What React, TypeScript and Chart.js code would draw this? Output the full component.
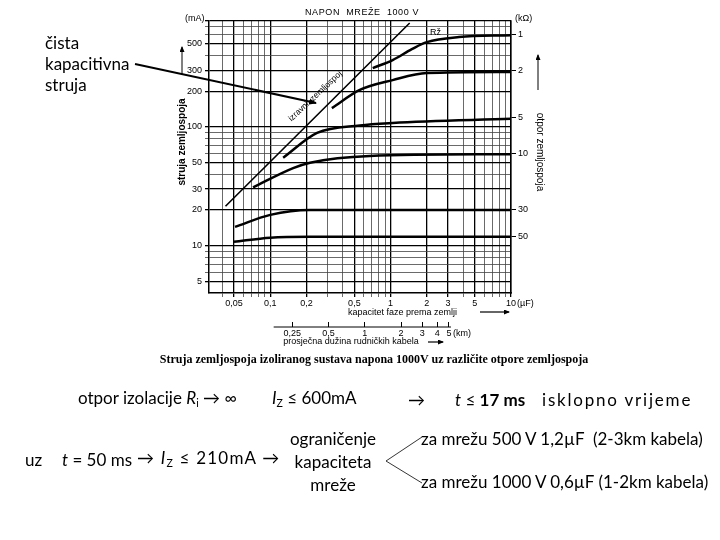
import React, { useEffect, useRef } from "react";
import { Chart, registerables } from "chart.js";
Chart.register(...registerables);

// ---- axes ----
const X_MIN = 0.031;
const X_MAX = 10;
const Y_MIN = 4;
const Y_MAX = 780;
const KM_MIN = 0.0508;
const KM_MAX = 16.4;
const R_MIN = 0.77;
const R_MAX = 150;

const X_GRID = [0.04, 0.05, 0.06, 0.07, 0.08, 0.09, 0.1, 0.2, 0.3, 0.4, 0.5, 0.6, 0.7, 0.8, 0.9, 1, 2, 3, 4, 5, 6, 7, 8, 9, 10];
const X_LABELS = [0.05, 0.1, 0.2, 0.5, 1, 2, 3, 5, 10];
const Y_GRID = [5, 6, 7, 8, 9, 10, 20, 30, 40, 50, 60, 70, 80, 90, 100, 200, 300, 400, 500, 600, 700];
const Y_LABELS = [5, 10, 20, 30, 50, 100, 200, 300, 500];
const R_TICKS = [1, 2, 5, 10, 30, 50];
const KM_TICKS = [0.25, 0.5, 1, 2, 3, 4, 5];
const KM_LINE = [0.175, 5.2];

// ---- series (capacitance µF -> current mA) ----
const DIRECT_C = [0.0425, 1.44];
const DIRECT_I = [21.5, 750];
const R1_C = [0.71, 1.04, 1.5, 2, 3.7, 10];
const R1_I = [313, 366, 452, 518, 571, 593];
const R2_C = [0.325, 0.555, 1.04, 2, 10];
const R2_I = [144, 205, 248, 284, 290];
const R5_C = [0.128, 0.245, 0.555, 1.04, 10];
const R5_I = [55, 89, 103, 108, 117];
const R10_C = [0.072, 0.155, 0.214, 0.67, 10];
const R10_I = [31, 45, 50, 57, 59];
const R30_C = [0.051, 0.1, 0.214, 10];
const R30_I = [14.4, 18.2, 20, 20];
const R50_C = [0.05, 0.1, 0.214, 10];
const R50_I = [10.8, 11.7, 11.9, 11.9];

const has = (list: number[], v: number) => list.some((l) => Math.abs(l - v) < 1e-9);
const fmt = (v: number) => String(v).replace(".", ",");
const pts = (xs: number[], ys: number[]) => xs.map((x, i) => ({ x, y: ys[i] }));

const curve = (label: string, xs: number[], ys: number[], width: number) => ({
  label,
  data: pts(xs, ys),
  borderColor: "#000",
  borderWidth: width,
  pointRadius: 0,
  fill: false,
  cubicInterpolationMode: "monotone" as const,
});

const kmLinePlugin = {
  id: "kmLine",
  afterDraw(chart: any) {
    const s = chart.scales.x2;
    const ctx = chart.ctx;
    const y = s.top + 5;
    ctx.save();
    ctx.strokeStyle = "#000";
    ctx.lineWidth = 1;
    ctx.beginPath();
    ctx.moveTo(s.getPixelForValue(KM_LINE[0]), y);
    ctx.lineTo(s.getPixelForValue(KM_LINE[1]), y);
    ctx.stroke();
    ctx.restore();
  },
};

const gridColor = (labels: number[]) => (ctx: any) =>
  ctx.tick && has(labels, ctx.tick.value) ? "#000" : "#444";
const gridWidth = (labels: number[]) => (ctx: any) =>
  ctx.tick && has(labels, ctx.tick.value) ? 1.3 : 0.8;

const TXT = "#000";
const Txt = ({ x, y, size = 9, center = false, style = {}, children }: any) => (
  <div
    style={{
      position: "absolute",
      left: x,
      top: y,
      transform: center ? "translate(-50%,-50%)" : "translate(0,-50%)",
      fontSize: size,
      lineHeight: 1,
      whiteSpace: "nowrap",
      color: TXT,
      ...style,
    }}
  >
    {children}
  </div>
);

const SLIDE: any = { fontFamily: "Lato, 'Open Sans', sans-serif" };
const PLOT: any = { fontFamily: "'Liberation Sans', Arial, sans-serif" };
const sub: any = { fontSize: "0.62em", verticalAlign: "-0.3em", fontStyle: "normal" };

export default function App() {
  const ref = useRef<HTMLCanvasElement>(null);
  useEffect(() => {
    Chart.defaults.font.family = "'Liberation Sans', Arial, sans-serif";
    const chart = new Chart(ref.current as HTMLCanvasElement, {
      type: "line",
      data: {
        datasets: [
          curve("izravni zemljospoj", DIRECT_C, DIRECT_I, 1.6),
          curve("1 kΩ", R1_C, R1_I, 2.5),
          curve("2 kΩ", R2_C, R2_I, 2.5),
          curve("5 kΩ", R5_C, R5_I, 2.5),
          curve("10 kΩ", R10_C, R10_I, 2.5),
          curve("30 kΩ", R30_C, R30_I, 2.5),
          curve("50 kΩ", R50_C, R50_I, 2.5),
        ],
      },
      options: {
        responsive: false,
        animation: false,
        layout: { padding: { left: 176, right: 174, top: 21, bottom: 2.6 } },
        plugins: {
          legend: { display: false },
          tooltip: { enabled: false },
          title: { display: false },
        },
        scales: {
          x: {
            type: "logarithmic",
            position: "bottom",
            min: X_MIN,
            max: X_MAX,
            afterBuildTicks: (s: any) => {
              s.ticks = X_GRID.map((v) => ({ value: v }));
            },
            afterFit: (s: any) => {
              s.height = 29;
            },
            ticks: {
              autoSkip: false,
              maxRotation: 0,
              minRotation: 0,
              padding: 1,
              color: "#000",
              font: { size: 9 },
              callback: (v: any) => (has(X_LABELS, Number(v)) ? fmt(Number(v)) : ""),
            },
            grid: { color: gridColor(X_LABELS), lineWidth: gridWidth(X_LABELS), tickLength: 4 },
            border: { display: true, color: "#000", width: 1.5 },
            title: {
              display: true,
              text: "kapacitet faze prema zemlji" + "\u2003".repeat(6),
              align: "end",
              color: "#000",
              font: { size: 9 },
              padding: { top: 0, bottom: 4 },
            },
          },
          x2: {
            type: "logarithmic",
            position: "bottom",
            weight: 1,
            min: KM_MIN,
            max: KM_MAX,
            afterBuildTicks: (s: any) => {
              s.ticks = KM_TICKS.map((v) => ({ value: v }));
            },
            afterFit: (s: any) => {
              s.height = 25.4;
            },
            ticks: {
              autoSkip: false,
              maxRotation: 0,
              minRotation: 0,
              padding: 1,
              color: "#000",
              font: { size: 9 },
              callback: (v: any) => fmt(Number(v)),
            },
            grid: { drawOnChartArea: false, color: "#000", lineWidth: 1, tickLength: 5 },
            border: { display: false },
            title: {
              display: true,
              text: "prosječna dužina rudničkih kabela" + "\u2003\u2003",
              align: "center",
              color: "#000",
              font: { size: 9 },
              padding: { top: 0, bottom: 0 },
            },
          },
          y: {
            type: "logarithmic",
            position: "left",
            min: Y_MIN,
            max: Y_MAX,
            afterBuildTicks: (s: any) => {
              s.ticks = [...Y_GRID, Y_MAX].map((v) => ({ value: v }));
            },
            afterFit: (s: any) => {
              s.width = 33;
            },
            ticks: {
              autoSkip: false,
              padding: 3,
              color: "#000",
              font: { size: 9 },
              callback: (v: any) => (has(Y_LABELS, Number(v)) ? String(v) : ""),
            },
            grid: { color: gridColor([...Y_LABELS, Y_MAX]), lineWidth: gridWidth([...Y_LABELS, Y_MAX]), tickLength: 4 },
            border: { display: true, color: "#000", width: 1.5 },
            title: {
              display: true,
              text: "\u2003\u2003\u2003struja zemljospoja",
              color: "#000",
              font: { size: 10, weight: "bold" },
              padding: { top: 0, bottom: 0 },
            },
          },
          y2: {
            type: "logarithmic",
            position: "right",
            reverse: true,
            min: R_MIN,
            max: R_MAX,
            afterBuildTicks: (s: any) => {
              s.ticks = R_TICKS.map((v) => ({ value: v }));
            },
            afterFit: (s: any) => {
              s.width = 35;
            },
            ticks: {
              autoSkip: false,
              padding: 2,
              color: "#000",
              font: { size: 9 },
              callback: (v: any) => String(v),
            },
            grid: { drawOnChartArea: false, color: "#000", lineWidth: 1, tickLength: 5 },
            border: { display: true, color: "#000", width: 1.5 },
            title: {
              display: true,
              text: "otpor zemljospoja\u2003",
              color: "#000",
              font: { size: 10 },
              padding: { top: 0, bottom: 0 },
            },
          },
        },
      } as any,
      plugins: [kmLinePlugin],
    });
    return () => chart.destroy();
  }, []);

  return (
    <div
      style={{
        position: "absolute",
        left: 0,
        top: 0,
        width: 720,
        height: 540,
        background: "#fff",
        overflow: "hidden",
      }}
    >
      <canvas ref={ref} width={720} height={350} style={{ position: "absolute", left: 0, top: 0 }} />

      <svg width={720} height={540} style={{ position: "absolute", left: 0, top: 0 }}>
        <defs>
          <marker id="ah" markerWidth="8" markerHeight="6" refX="7" refY="3" orient="auto" markerUnits="userSpaceOnUse">
            <path d="M0,0 L8,3 L0,6 Z" fill="#000" />
          </marker>
          <marker id="ahs" markerWidth="6" markerHeight="5" refX="5" refY="2.5" orient="auto" markerUnits="userSpaceOnUse">
            <path d="M0,0 L6,2.5 L0,5 Z" fill="#000" />
          </marker>
        </defs>
        <line x1={135} y1={64} x2={316} y2={103} stroke="#000" strokeWidth={2} markerEnd="url(#ah)" />
        <line x1={182} y1={75} x2={182} y2={47} stroke="#000" strokeWidth={1} markerEnd="url(#ahs)" />
        <line x1={538} y1={90} x2={538} y2={55} stroke="#000" strokeWidth={1} markerEnd="url(#ahs)" />
        <line x1={480} y1={312} x2={509} y2={312} stroke="#000" strokeWidth={1.2} markerEnd="url(#ahs)" />
        <line x1={428} y1={342} x2={443} y2={342} stroke="#000" strokeWidth={1.2} markerEnd="url(#ahs)" />
        <polyline points="422,437 386,461 422,483" fill="none" stroke="#000" strokeWidth={0.8} />
      </svg>

      {/* plot annotations */}
      <Txt x={185} y={18} style={PLOT}>(mA)</Txt>
      <Txt x={305} y={12} style={{ ...PLOT, letterSpacing: 0.6 }}>NAPON&nbsp;&nbsp;MREŽE&nbsp;&nbsp;1000&nbsp;V</Txt>
      <Txt x={515} y={18} style={PLOT}>(kΩ)</Txt>
      <Txt x={430} y={32} style={PLOT}>Rž</Txt>
      <Txt x={315} y={96} center style={{ ...PLOT, fontSize: 8.5, transform: "translate(-50%,-50%) rotate(-43deg)" }}>
        izravni&nbsp;&nbsp;zemljospoj
      </Txt>
      <Txt x={517} y={303} style={PLOT}>(µF)</Txt>
      <Txt x={453} y={333} style={PLOT}>(km)</Txt>
      <Txt x={374} y={359} center size={12} style={{ fontFamily: "'Liberation Serif', serif", fontWeight: "bold" }}>
        Struja zemljospoja izoliranog sustava napona 1000V uz različite otpore zemljospoja
      </Txt>

      {/* slide text */}
      <Txt x={45} y={42} size={17} style={SLIDE}>čista</Txt>
      <Txt x={45} y={63} size={17} style={SLIDE}>kapacitivna</Txt>
      <Txt x={45} y={84} size={17} style={SLIDE}>struja</Txt>

      <Txt x={78} y={399} size={17} style={SLIDE}>
        otpor izolacije <i>R</i><span style={sub}>i</span> → ∞
      </Txt>
      <Txt x={272} y={399} size={17} style={SLIDE}>
        <i>I</i><span style={sub}>Z</span> ≤ 600mA
      </Txt>
      <Txt x={408} y={399} size={17} style={SLIDE}>→</Txt>
      <Txt x={455} y={399} size={17} style={SLIDE}>
        <i>t</i> ≤ <b>17 ms</b>
      </Txt>
      <Txt x={542} y={399} size={17} style={{ ...SLIDE, letterSpacing: 1.8 }}>isklopno vrijeme</Txt>

      <Txt x={25} y={459} size={17} style={SLIDE}>uz</Txt>
      <Txt x={62} y={459} size={17} style={SLIDE}>
        <i>t</i> = 50 ms
      </Txt>
      <Txt x={137} y={459} size={17} style={{ ...SLIDE, letterSpacing: 1.2 }}>
        → <i>I</i><span style={sub}>Z</span> ≤ 210mA →
      </Txt>
      <Txt x={333} y={438} center size={17} style={SLIDE}>ograničenje</Txt>
      <Txt x={333} y={461} center size={17} style={SLIDE}>kapaciteta</Txt>
      <Txt x={333} y={484} center size={17} style={SLIDE}>mreže</Txt>
      <Txt x={421} y={438} size={17} style={SLIDE}>za mrežu 500 V 1,2µF&nbsp;&nbsp;(2-3km kabela)</Txt>
      <Txt x={421} y={481} size={17} style={SLIDE}>
        za mrežu 1000 V 0,6µF (1-2km kabela)
      </Txt>
    </div>
  );
}
